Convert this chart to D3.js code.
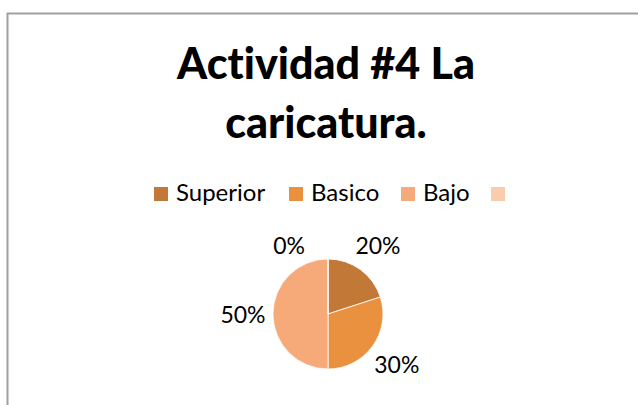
<!DOCTYPE html>
<html>
<head>
<meta charset="utf-8">
<script src="https://cdn.jsdelivr.net/npm/d3@7"></script>
<style>
  body { margin: 0; background: #fff; }
  text { font-family: Lato, "Open Sans", sans-serif; font-variant-ligatures: none; }
</style>
</head>
<body>
<svg id="chart"></svg>
<script>
// chart values
var titleLines = ["Actividad #4 La", "caricatura."]
var categories = ["Superior", "Basico", "Bajo", ""]
var values = [20, 30, 50, 0]
var colors = ["#c27836", "#e9913f", "#f6a979", "#f9ccae"]

var width = 638, height = 405
var svg = d3.select("#chart")
    .attr("width", width)
    .attr("height", height)

// chart area frame (runs off the right and bottom edges)
svg.append("rect")
    .attr("x", 7.5)
    .attr("y", 13.5)
    .attr("width", width + 20)
    .attr("height", height + 20)
    .attr("fill", "#fff")
    .attr("stroke", "#a0a0a0")
    .attr("stroke-width", 2)

svg.selectAll(".title")
    .data(titleLines)
    .enter()
    .append("text")
        .attr("class", "title")
        .attr("x", 326)
        .attr("y", (d, i) => 79 + i * 59)
        .attr("text-anchor", "middle")
        .attr("font-size", "43px")
        .attr("font-weight", "900")
        .attr("fill", "#000")
        .text(d => d)

// legend
var legendX = [154, 289, 401, 491]
var legend = svg.selectAll(".legend")
    .data(categories)
    .enter()
    .append("g")
        .attr("class", "legend")
        .attr("transform", (d, i) => "translate(" + legendX[i] + ",187)")
legend.append("rect")
    .attr("width", 14)
    .attr("height", 14)
    .attr("fill", (d, i) => colors[i])
legend.append("text")
    .attr("x", 22)
    .attr("y", 14)
    .attr("font-size", "24px")
    .attr("fill", "#000")
    .text(d => d)

// pie
var cx = 328, cy = 314, r = 55
var pie = d3.pie().sort(null).value(d => d)
var arcs = pie(values)
var arc = d3.arc().innerRadius(0).outerRadius(r)
var labelArc = d3.arc().innerRadius(85).outerRadius(85)

var g = svg.append("g").attr("transform", "translate(" + cx + "," + cy + ")")
g.selectAll("path")
    .data(arcs)
    .enter()
    .append("path")
        .attr("d", arc)
        .attr("fill", (d, i) => colors[i])
        .attr("stroke", "#fff")
        .attr("stroke-width", 0.8)

var total = d3.sum(values)
g.selectAll(".lbl")
    .data(arcs)
    .enter()
    .append("text")
        .attr("class", "lbl")
        .attr("transform", d => {
            var p = labelArc.centroid(d)
            if (d.value == 0) p = [-23, -69]
            return "translate(" + p + ")"
        })
        .attr("text-anchor", d => d.value == 0 ? "end" : "middle")
        .attr("dominant-baseline", "central")
        .attr("font-size", "23px")
        .attr("fill", "#000")
        .text(d => Math.round(d.value / total * 100) + "%")
</script>
</body>
</html>
